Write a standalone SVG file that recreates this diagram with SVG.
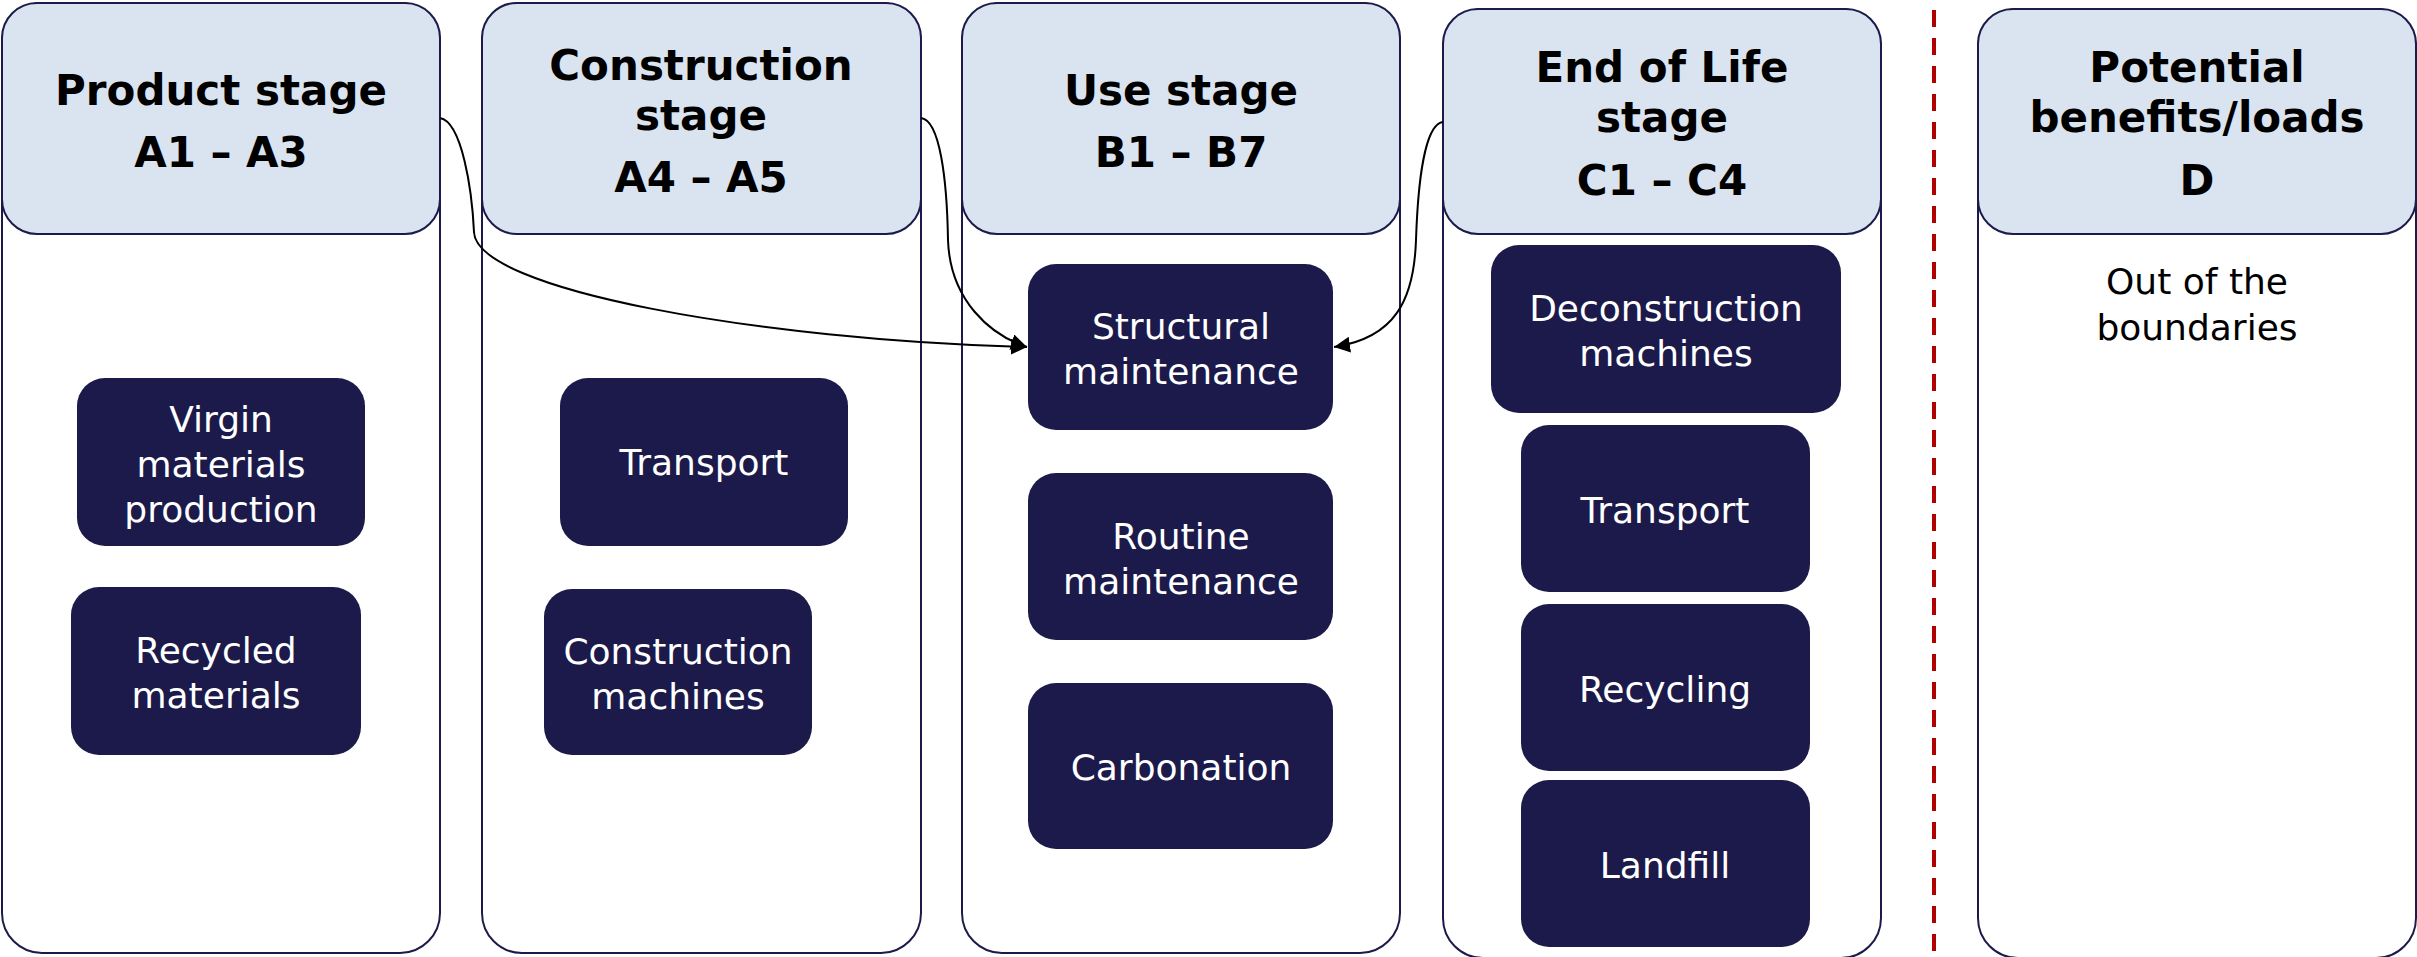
<svg xmlns="http://www.w3.org/2000/svg" width="2417" height="957" viewBox="0 0 2417 957">
  <style>
    .body { fill: #ffffff; stroke: #1B1A4A; stroke-width: 2; }
    .head { fill: #DAE4F0; stroke: #1B1A4A; stroke-width: 2; }
    .box { fill: #1B1A4A; }
    .ht { font-family: "DejaVu Sans", Verdana, sans-serif; font-weight: bold; font-size: 42px; fill: #000000; text-anchor: middle; }
    .bt { font-family: "DejaVu Sans", Verdana, sans-serif; font-size: 36px; fill: #ffffff; text-anchor: middle; }
    .nt { font-family: "DejaVu Sans", Verdana, sans-serif; font-size: 36px; fill: #000000; text-anchor: middle; }
    .conn { fill: none; stroke: #000000; stroke-width: 2; }
  </style>
  <defs>
    <marker id="arrow" viewBox="0 0 16 16" refX="16" refY="8" markerWidth="16" markerHeight="16" markerUnits="userSpaceOnUse" orient="auto">
      <path d="M0,0 L16,8 L0,16 Z" fill="#000000"/>
    </marker>
  </defs>
  <rect width="2417" height="957" fill="#ffffff"/>

  <!-- Product stage -->
  <g id="stage-a1-a3">
    <rect class="body" x="2" y="3" width="438" height="950" rx="40"/>
    <rect class="head" x="2" y="3" width="438" height="231" rx="35"/>
    <text class="ht" x="221" y="105">Product stage</text>
    <text class="ht" x="221" y="167">A1 – A3</text>
  </g>
  <g id="virgin-materials">
    <rect class="box" x="77" y="378" width="288" height="168" rx="28"/>
    <text class="bt" x="221" y="432">Virgin</text>
    <text class="bt" x="221" y="477">materials</text>
    <text class="bt" x="221" y="522">production</text>
  </g>
  <g id="recycled-materials">
    <rect class="box" x="71" y="587" width="290" height="168" rx="28"/>
    <text class="bt" x="216" y="663">Recycled</text>
    <text class="bt" x="216" y="708">materials</text>
  </g>

  <!-- Construction stage -->
  <g id="stage-a4-a5">
    <rect class="body" x="482" y="3" width="439" height="950" rx="40"/>
    <rect class="head" x="482" y="3" width="439" height="231" rx="35"/>
    <text class="ht" x="701" y="80">Construction</text>
    <text class="ht" x="701" y="130">stage</text>
    <text class="ht" x="701" y="192">A4 – A5</text>
  </g>
  <g id="transport-a4">
    <rect class="box" x="560" y="378" width="288" height="168" rx="28"/>
    <text class="bt" x="704" y="475">Transport</text>
  </g>
  <g id="construction-machines">
    <rect class="box" x="544" y="589" width="268" height="166" rx="28"/>
    <text class="bt" x="678" y="664">Construction</text>
    <text class="bt" x="678" y="709">machines</text>
  </g>

  <!-- Use stage -->
  <g id="stage-b1-b7">
    <rect class="body" x="962" y="3" width="438" height="950" rx="40"/>
    <rect class="head" x="962" y="3" width="438" height="231" rx="35"/>
    <text class="ht" x="1181" y="105">Use stage</text>
    <text class="ht" x="1181" y="167">B1 – B7</text>
  </g>
  <g id="structural-maintenance">
    <rect class="box" x="1028" y="264" width="305" height="166" rx="28"/>
    <text class="bt" x="1181" y="339">Structural</text>
    <text class="bt" x="1181" y="384">maintenance</text>
  </g>
  <g id="routine-maintenance">
    <rect class="box" x="1028" y="473" width="305" height="167" rx="28"/>
    <text class="bt" x="1181" y="549">Routine</text>
    <text class="bt" x="1181" y="594">maintenance</text>
  </g>
  <g id="carbonation">
    <rect class="box" x="1028" y="683" width="305" height="166" rx="28"/>
    <text class="bt" x="1181" y="780">Carbonation</text>
  </g>

  <!-- End of Life stage -->
  <g id="stage-c1-c4">
    <rect class="body" x="1443" y="9" width="438" height="949" rx="40"/>
    <rect class="head" x="1443" y="9" width="438" height="225" rx="35"/>
    <text class="ht" x="1662" y="82">End of Life</text>
    <text class="ht" x="1662" y="132">stage</text>
    <text class="ht" x="1662" y="195">C1 – C4</text>
  </g>
  <g id="deconstruction-machines">
    <rect class="box" x="1491" y="245" width="350" height="168" rx="28"/>
    <text class="bt" x="1666" y="321">Deconstruction</text>
    <text class="bt" x="1666" y="366">machines</text>
  </g>
  <g id="transport-c2">
    <rect class="box" x="1521" y="425" width="289" height="167" rx="28"/>
    <text class="bt" x="1665" y="523">Transport</text>
  </g>
  <g id="recycling">
    <rect class="box" x="1521" y="604" width="289" height="167" rx="28"/>
    <text class="bt" x="1665" y="702">Recycling</text>
  </g>
  <g id="landfill">
    <rect class="box" x="1521" y="780" width="289" height="167" rx="28"/>
    <text class="bt" x="1665" y="878">Landfill</text>
  </g>

  <!-- System boundary -->
  <line id="boundary" x1="1934" y1="10" x2="1934" y2="957" stroke="#B00000" stroke-width="4" stroke-dasharray="17 11"/>

  <!-- Potential benefits/loads -->
  <g id="stage-d">
    <rect class="body" x="1978" y="9" width="438" height="949" rx="40"/>
    <rect class="head" x="1978" y="9" width="438" height="225" rx="35"/>
    <text class="ht" x="2197" y="82">Potential</text>
    <text class="ht" x="2197" y="132">benefits/loads</text>
    <text class="ht" x="2197" y="195">D</text>
    <text class="nt" x="2197" y="294">Out of the</text>
    <text class="nt" x="2197" y="340">boundaries</text>
  </g>

  <!-- Connectors into structural maintenance -->
  <g id="connectors">
    <path class="conn" d="M440,118 C462,122 472,190 474,232 C476,290 760,340 1027,347" marker-end="url(#arrow)"/>
    <path class="conn" d="M921,118 C940,120 947,180 948,240 C950,300 990,335 1027,347" marker-end="url(#arrow)"/>
    <path class="conn" d="M1443,122 C1425,124 1418,180 1416,240 C1414,300 1395,338 1334,347" marker-end="url(#arrow)"/>
  </g>
</svg>
